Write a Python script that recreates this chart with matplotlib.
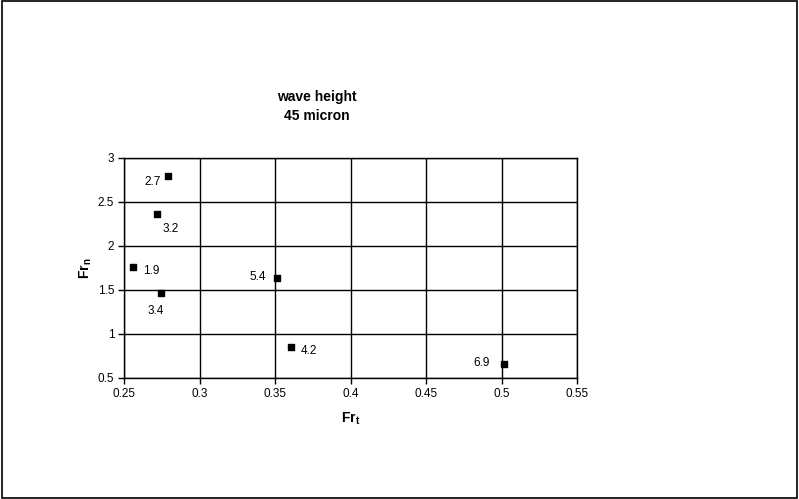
import matplotlib
matplotlib.use("Agg")
import matplotlib.pyplot as plt
from matplotlib.patches import Rectangle

fr_t = [0.279, 0.2719, 0.256, 0.2745, 0.3513, 0.3603, 0.5017]
fr_n = [2.795, 2.364, 1.761, 1.466, 1.636, 0.852, 0.659]
labels = ["2.7", "3.2", "1.9", "3.4", "5.4", "4.2", "6.9"]
# label offsets in points
offsets = [(-17, -4), (4, -11), (7, -3), (-10, -13), (-20, 1), (7, -3), (-22, 1)]
xticks = [0.25, 0.3, 0.35, 0.4, 0.45, 0.5, 0.55]
yticks = [0.5, 1, 1.5, 2, 2.5, 3]

plt.rcParams['font.family'] = ['Liberation Sans', 'DejaVu Sans']
fig = plt.figure(figsize=(7.99, 4.99), dpi=100)
fig.patches.append(Rectangle((0.002, 0.002), 0.996, 0.996, transform=fig.transFigure,
                             fill=False, edgecolor='black', linewidth=1.2))
ax = fig.add_axes([0.1552, 0.2425, 0.567, 0.4409])
ax.scatter(fr_t, fr_n, marker='s', s=22, color='black', zorder=3)
for x, y, lab, off in zip(fr_t, fr_n, labels, offsets):
    ax.annotate(lab, (x, y), xytext=off, textcoords='offset points', fontsize=8.5,
                ha='left', va='center')
ax.set_xlim(0.25, 0.55)
ax.set_ylim(0.5, 3)
ax.set_xticks(xticks)
ax.set_xticklabels([f"{t:g}" for t in xticks])
ax.set_yticks(yticks)
ax.set_yticklabels([f"{t:g}" for t in yticks])
ax.grid(True, color='black', linewidth=1)
ax.set_axisbelow(True)
for s in ax.spines.values():
    s.set_linewidth(1)
ax.tick_params(direction='out', length=4, width=1, labelsize=8.5, pad=3)
ax.set_xlabel(r"Fr$_\mathregular{t}$", fontsize=10, fontweight='bold', labelpad=8)
ax.set_ylabel(r"Fr$_\mathregular{n}$", fontsize=10, fontweight='bold', labelpad=3)
fig.text(0.396, 0.787, "wave height\n45 micron", ha='center', va='center',
         fontsize=10, fontweight='bold', linespacing=1.45)
fig.savefig("out.png", dpi=100)
